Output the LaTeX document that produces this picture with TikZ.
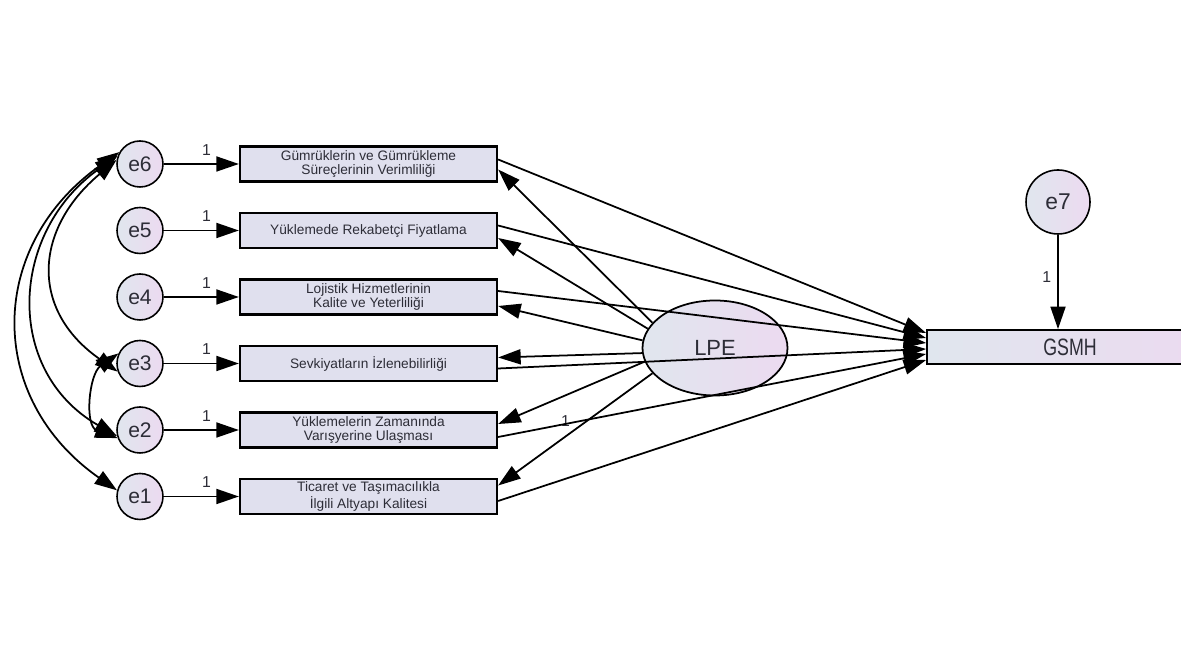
\documentclass[tikz,border=0pt]{standalone}
\usepackage{fontspec}
\setmainfont{Liberation Sans}
\newfontfamily\gsmhfont[FakeStretch=0.75]{Liberation Sans}
\usepackage{xcolor}
\usepackage{tikz}
\usetikzlibrary{shapes.geometric, arrows.meta, positioning, calc}
\definecolor{amosbox}{RGB}{224,224,238}
\definecolor{amosleft}{RGB}{224,230,238}
\definecolor{amosright}{RGB}{236,218,240}
\definecolor{amostext}{RGB}{45,45,55}

\begin{document}
\begin{tikzpicture}[
        >={Triangle[length=4.5mm,width=3mm]},
        err/.style={circle, draw, line width=0.9pt, left color=amosleft, right color=amosright, minimum size=0.92cm, inner sep=0pt, font=\fontsize{12}{12}\selectfont, text=amostext},
        obs/.style={rectangle, draw, line width=1.3pt, fill=amosbox, minimum width=5.14cm, minimum height=0.7cm, inner sep=0pt, align=center, font=\fontsize{7.8}{7.8}\selectfont, text=amostext},
        regr/.style={->, line width=1pt},
        cov/.style={<->, line width=1pt},
        one/.style={font=\fontsize{9}{9}\selectfont, text=amostext}
    ]
        \useasboundingbox (0,0) rectangle (23.62,13.26);
        \fill[white] (0,0) rectangle (23.62,13.26);

        % Error terms
        \node[err] (e6) at (2.80, 9.98) {e6};
        \node[err] (e5) at (2.80, 8.65) {e5};
        \node[err] (e4) at (2.80, 7.32) {e4};
        \node[err] (e3) at (2.80, 5.99) {e3};
        \node[err] (e2) at (2.80, 4.66) {e2};
        \node[err] (e1) at (2.80, 3.33) {e1};

        % Observed indicators
        \node[obs] (o6) at (7.37, 9.98) {Gümrüklerin ve Gümrükleme\\Süreçlerinin Verimliliği};
        \node[obs] (o5) at (7.37, 8.65) {Yüklemede Rekabetçi Fiyatlama};
        \node[obs] (o4) at (7.37, 7.32) {Lojistik Hizmetlerinin\\Kalite ve Yeterliliği};
        \node[obs] (o3) at (7.37, 5.99) {Sevkiyatların İzlenebilirliği};
        \node[obs] (o2) at (7.37, 4.66) {Yüklemelerin Zamanında\\Varışyerine Ulaşması};
        \node[obs] (o1) at (7.37, 3.33) {Ticaret ve Taşımacılıkla\\İlgili Altyapı Kalitesi};

        % Latent variable, outcome and its error
        \node[ellipse, draw, line width=1pt, left color=amosleft, right color=amosright, minimum width=2.9cm, minimum height=1.9cm, inner sep=0pt, font=\fontsize{12.5}{12.5}\selectfont, text=amostext] (lpe) at (14.30, 6.30) {LPE};
        \node[rectangle, draw, line width=1pt, left color=amosleft, right color=amosright, minimum width=5.72cm, minimum height=0.68cm, inner sep=0pt, font=\gsmhfont\fontsize{13.5}{13.5}\selectfont, text=amostext] (gsmh) at (21.40, 6.32) {GSMH};
        \node[err, minimum size=1.28cm, font=\fontsize{13}{13}\selectfont] (e7) at (21.16, 9.22) {e7};

        % Errors to indicators
        \draw[regr] (e6) -- node[one, pos=0.57, above=1pt] {1} (o6);
        \draw[regr] (e5) -- node[one, pos=0.57, above=1pt] {1} (o5);
        \draw[regr] (e4) -- node[one, pos=0.57, above=1pt] {1} (o4);
        \draw[regr] (e3) -- node[one, pos=0.57, above=1pt] {1} (o3);
        \draw[regr] (e2) -- node[one, pos=0.57, above=1pt] {1} (o2);
        \draw[regr] (e1) -- node[one, pos=0.57, above=1pt] {1} (o1);
        \draw[regr] (e7) -- node[one, pos=0.45, left] {1} (e7 |- gsmh.north);

        % Error covariances
        \draw[cov] (e6.150) to[out=215, in=145, looseness=1.22] (e1.165);
        \draw[cov] (e6.160) to[out=215, in=150, looseness=1.2] (e2.195);
        \draw[cov] (e6.170) to[out=220, in=145, looseness=1.3] (e3.200);
        \draw[cov] (e3.155) to[out=215, in=160, looseness=1.08] (e2.200);

        % Loadings
        \draw[regr] (lpe.158) -- ($(o6.east)+(0,-0.11)$);
        \draw[regr] (lpe.164) -- ($(o5.east)+(0,-0.15)$);
        \draw[regr] (lpe.174) -- ($(o4.east)+(0,-0.18)$);
        \draw[regr] (lpe.184) -- ($(o3.east)+(0,0.12)$);
        \draw[regr] (lpe.191) -- node[one, pos=0.54, below=0.28cm] {1} ($(o2.east)+(0,0.12)$);
        \draw[regr] (lpe.202) -- ($(o1.east)+(0,0.22)$);

        % Indicators to GSMH
        \draw[regr] ($(o6.east)+(0,0.09)$) -- ($(gsmh.west)+(0,0.28)$);
        \draw[regr] ($(o5.east)+(0,0.10)$) -- ($(gsmh.west)+(0,0.18)$);
        \draw[regr] ($(o4.east)+(0,0.12)$) -- ($(gsmh.west)+(0,0.08)$);
        \draw[regr] ($(o3.east)+(0,-0.10)$) -- ($(gsmh.west)+(0,-0.04)$);
        \draw[regr] ($(o2.east)+(0,-0.14)$) -- ($(gsmh.west)+(0,-0.14)$);
        \draw[regr] ($(o1.east)+(0,-0.09)$) -- ($(gsmh.west)+(0,-0.26)$);

    \end{tikzpicture}
\end{document}
